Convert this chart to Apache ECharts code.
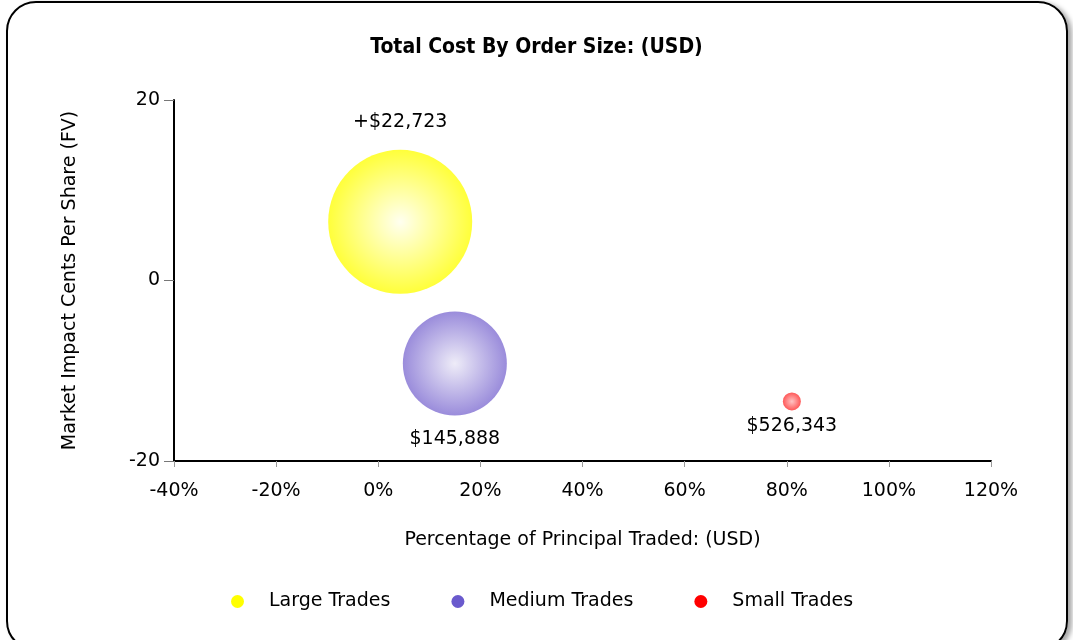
<!DOCTYPE html>
<html>
<head>
<meta charset="utf-8">
<script src="https://cdn.jsdelivr.net/npm/echarts@6/dist/echarts.min.js"></script>
<style>
  html, body {
    margin: 0;
    padding: 0;
    background: #fff;
    overflow: hidden;
  }
  .frame {
    position: absolute;
    left: 6px;
    top: 1px;
    width: 1062px;
    height: 650px;
    border: 2px solid #000;
    border-radius: 30px;
    box-shadow: 4px 2px 5px rgba(0, 0, 0, 0.35);
    box-sizing: border-box;
  }
  #chart {
    position: absolute;
    left: 0;
    top: 0;
    width: 1073px;
    height: 640px;
  }
</style>
</head>
<body>
<div class="frame"></div>
<div id="chart"></div>
<script>
// series names (legend order)
const seriesNames = ['Large Trades', 'Medium Trades', 'Small Trades']
// x: percentage of principal traded (%)
const pctPrincipal = [4.3, 15.0, 81.0]
// y: market impact cents per share
const impactCents = [6.5, -9.2, -13.4]
// bubble labels
const costLabels = ['+$22,723', '$145,888', '$526,343']

const FONT = 'DejaVu Sans'
const FS = 19

// styles per series
const styles = [
  { legend: '#ffff00', inner: '#fffff0', outer: '#ffff3a', size: 144, pos: 'top', dist: 18 },
  { legend: '#6a5acd', inner: '#eeecf8', outer: '#9a8cdb', size: 104, pos: 'bottom', dist: 14 },
  { legend: '#ff0000', inner: '#ffc4c4', outer: '#ff5858', size: 18, pos: 'bottom', dist: 6 }
]

const chart = echarts.init(document.getElementById('chart'))

const series = seriesNames.map((name, i) => ({
  name: name,
  type: 'scatter',
  symbol: 'circle',
  symbolSize: styles[i].size,
  data: [[pctPrincipal[i], impactCents[i]]],
  itemStyle: {
    opacity: 1,
    color: {
      type: 'radial',
      x: 0.5, y: 0.5, r: 0.5,
      colorStops: [
        { offset: 0, color: styles[i].inner },
        { offset: 1, color: styles[i].outer }
      ]
    }
  },
  label: {
    show: true,
    position: styles[i].pos,
    distance: styles[i].dist,
    formatter: () => costLabels[i],
    color: '#000',
    fontFamily: FONT,
    fontSize: FS
  },
  emphasis: { disabled: true }
}))

const option = {
  animation: false,
  title: {
    text: 'Total Cost By Order Size: (USD)',
    left: 'center',
    top: 32,
    textStyle: {
      fontFamily: 'DejaVu Sans Condensed',
      fontWeight: 'bold',
      fontSize: 21,
      color: '#000'
    }
  },
  legend: {
    bottom: 24,
    left: 226,
    itemWidth: 13,
    itemHeight: 13,
    itemGap: 61,
    icon: 'circle',
    selectedMode: false,
    data: seriesNames.map((n, i) => ({ name: n, itemStyle: { color: styles[i].legend } })),
    textStyle: {
      fontFamily: FONT,
      fontSize: FS,
      color: '#000',
      padding: [0, 0, 0, 20]
    }
  },
  grid: {
    left: 174,
    right: 82,
    top: 100,
    bottom: 179
  },
  xAxis: {
    type: 'value',
    min: -40,
    max: 120,
    interval: 20,
    name: 'Percentage of Principal Traded: (USD)',
    nameLocation: 'middle',
    nameGap: 70,
    nameTextStyle: { fontFamily: FONT, fontSize: FS, color: '#000' },
    axisLine: { show: true, onZero: false, lineStyle: { color: '#000', width: 2 } },
    axisTick: { show: true, length: 6, lineStyle: { color: '#999' } },
    axisLabel: {
      fontFamily: FONT, fontSize: FS, color: '#000', margin: 21,
      formatter: '{value}%'
    },
    splitLine: { show: false }
  },
  yAxis: {
    type: 'value',
    min: -20,
    max: 20,
    interval: 20,
    name: 'Market Impact Cents Per Share (FV)',
    nameLocation: 'middle',
    nameGap: 94,
    nameTextStyle: { fontFamily: FONT, fontSize: FS, color: '#000' },
    axisLine: { show: true, onZero: false, lineStyle: { color: '#000', width: 2 } },
    axisTick: { show: true, length: 10, lineStyle: { color: '#777' } },
    axisLabel: { fontFamily: FONT, fontSize: FS, color: '#000', margin: 14 },
    splitLine: { show: false }
  },
  series: series
}

chart.setOption(option)
</script>
</body>
</html>
